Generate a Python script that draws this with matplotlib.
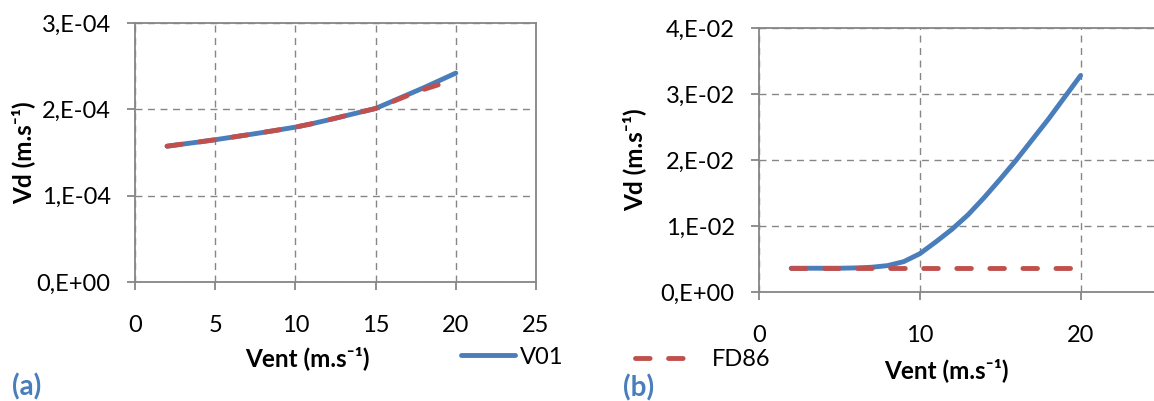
import math
import matplotlib
matplotlib.use("Agg")
import matplotlib.pyplot as plt
from matplotlib.ticker import FuncFormatter, MultipleLocator
from matplotlib.lines import Line2D

plt.rcParams['font.family'] = ['Lato', 'DejaVu Sans']

# wind speed (m/s)
wind = [2, 3, 4, 5, 6, 7, 8, 9, 10, 11, 12, 13, 14, 15, 16, 17, 18, 19, 20]

# panel (a) deposition velocity (m/s)
v01_a = [1.573e-4, 1.598e-4, 1.622e-4, 1.648e-4, 1.676e-4, 1.704e-4, 1.733e-4,
         1.763e-4, 1.794e-4, 1.832e-4, 1.875e-4, 1.920e-4, 1.965e-4, 2.010e-4,
         2.090e-4, 2.170e-4, 2.250e-4, 2.335e-4, 2.420e-4]
fd86_a = [1.573e-4, 1.598e-4, 1.622e-4, 1.648e-4, 1.676e-4, 1.704e-4, 1.733e-4,
          1.763e-4, 1.794e-4, 1.832e-4, 1.875e-4, 1.920e-4, 1.965e-4, 2.010e-4,
          2.085e-4, 2.160e-4, 2.230e-4, 2.290e-4, 2.340e-4]

# panel (b)
v01_b = [0.0036, 0.0036, 0.0036, 0.0036, 0.00365, 0.00375, 0.0040, 0.0046,
         0.0058, 0.0076, 0.0095, 0.0117, 0.0143, 0.0171, 0.0200, 0.0231,
         0.0262, 0.0295, 0.0328]
fd86_b = [0.0036] * 19

blue = '#4A7EBB'
red = '#C0504D'
gray = '#868686'
fs = 17
lfs = 17.5
dash = (3.0, 3.8)


def excel_sci(v, pos):
    if v == 0:
        return "0,E+00"
    e = int(math.floor(math.log10(abs(v)) + 1e-9))
    m = int(round(v / 10 ** e))
    return f"{m},E{e:+03d}"


def style(ax):
    for s in ax.spines.values():
        s.set_color(gray)
        s.set_linewidth(1.3)
    ax.grid(True, color=gray, linestyle=(0, (5, 4)), linewidth=1)
    ax.tick_params(colors=gray, labelcolor='black', labelsize=fs, length=5.5,
                   width=1.3, direction='out')
    ax.tick_params(axis='x', pad=18)
    ax.tick_params(axis='y', pad=12)
    ax.yaxis.set_major_formatter(FuncFormatter(excel_sci))
    ax.set_axisbelow(True)


fig = plt.figure(figsize=(11.54, 4.01), dpi=100)
W, H = 1154, 401

xlab = 'Vent (m.s\u207b\u00b9)'
ylab = 'Vd (m.s\u207b\u00b9)'

# panel (a)
ax1 = fig.add_axes([135 / W, 1 - 282 / H, 401 / W, 259 / H])
ax1.plot(wind, v01_a, color=blue, lw=3.5, solid_capstyle='round')
ax1.plot(wind, fd86_a, color=red, lw=3.5, dashes=dash, dash_capstyle='round')
ax1.set_xlim(0, 25)
ax1.set_ylim(0, 3e-4)
ax1.xaxis.set_major_locator(MultipleLocator(5))
ax1.yaxis.set_major_locator(MultipleLocator(1e-4))
style(ax1)
ax1.set_xlabel(xlab, fontsize=lfs, fontweight='bold')
ax1.xaxis.set_label_coords(0.431, -0.247)
ax1.set_ylabel(ylab, fontsize=lfs, fontweight='bold')
ax1.yaxis.set_label_coords(-0.249, 0.5)

# panel (b)
ax2 = fig.add_axes([759 / W, 1 - 292 / H, 402 / W, 264 / H])
ax2.plot(wind, v01_b, color=blue, lw=3.5, solid_capstyle='round')
ax2.plot(wind, fd86_b, color=red, lw=3.5, dashes=dash, dash_capstyle='round')
ax2.set_xlim(0, 25)
ax2.set_ylim(0, 0.04)
ax2.xaxis.set_major_locator(MultipleLocator(10))
ax2.yaxis.set_major_locator(MultipleLocator(0.01))
style(ax2)
ax2.set_xlabel(xlab, fontsize=lfs, fontweight='bold')
ax2.xaxis.set_label_coords(0.465, -0.25)
ax2.set_ylabel(ylab, fontsize=lfs, fontweight='bold')
ax2.yaxis.set_label_coords(-0.281, 0.5)

# legend entries
h1 = Line2D([], [], color=blue, lw=3.5, solid_capstyle='round')
h2 = Line2D([], [], color=red, lw=3.5, dashes=dash, dash_capstyle='round')
fig.legend([h1], ['V01'], loc='center left', bbox_to_anchor=(461 / W, 1 - 357 / H),
           frameon=False, fontsize=fs, handlelength=2.3, handletextpad=0.2,
           borderpad=0, borderaxespad=0)
fig.legend([h2], ['FD86'], loc='center left', bbox_to_anchor=(635 / W, 1 - 360 / H),
           frameon=False, fontsize=fs, handlelength=2.3, handletextpad=0.95,
           borderpad=0, borderaxespad=0)

fig.text(12 / W, 1 - 387 / H, '(a)', color=blue, fontsize=20, fontweight='bold',
         va='center', ha='left')
fig.text(623 / W, 1 - 388 / H, '(b)', color=blue, fontsize=20, fontweight='bold',
         va='center', ha='left')

fig.savefig('out.png', dpi=100)
